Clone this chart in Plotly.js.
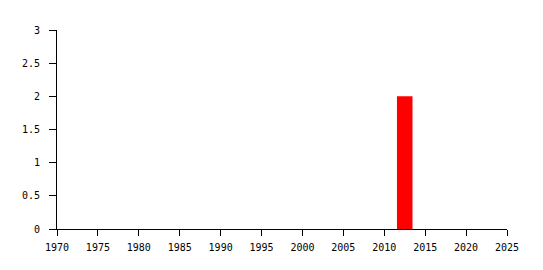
<!DOCTYPE html>
<html><head><meta charset="utf-8">
<script src="https://cdn.plot.ly/plotly-3.0.1.min.js"></script>
<style>html,body{margin:0;padding:0;background:#fff}</style>
</head><body>
<div id="chart" style="width:543px;height:270px"></div>
<script>
const years = [2012.5];
const counts = [2];
const xTicks = [1970,1975,1980,1985,1990,1995,2000,2005,2010,2015,2020,2025];
const yTicks = [0,0.5,1,1.5,2,2.5,3];

const font = {family: '"DejaVu Sans Mono", monospace', size: 10, color: '#000'};
Plotly.newPlot('chart', [{
  type: 'bar', x: years, y: counts, width: 1.9,
  marker: {color: '#ff0000', line: {width: 0}}, hoverinfo: 'none'
}], {
  width: 543, height: 270,
  margin: {l: 57, r: 36, t: 30, b: 41, pad: 0},
  paper_bgcolor: '#fff', plot_bgcolor: '#fff',
  showlegend: false, font: font,
  xaxis: {range: [1970, 2025], tickvals: xTicks, ticktext: xTicks.map(String),
    showgrid: false, zeroline: false, showline: true, linecolor: '#000', linewidth: 1,
    ticks: 'outside', ticklen: 6, tickcolor: '#000', tickfont: font, ticklabelstandoff: 3},
  yaxis: {range: [0, 3], tickvals: yTicks, ticktext: yTicks.map(String),
    showgrid: false, zeroline: false, showline: true, linecolor: '#000', linewidth: 1,
    ticks: 'outside', ticklen: 7, tickcolor: '#000', tickfont: font, ticklabelstandoff: 7}
}, {displayModeBar: false, staticPlot: true});
</script>
</body></html>
